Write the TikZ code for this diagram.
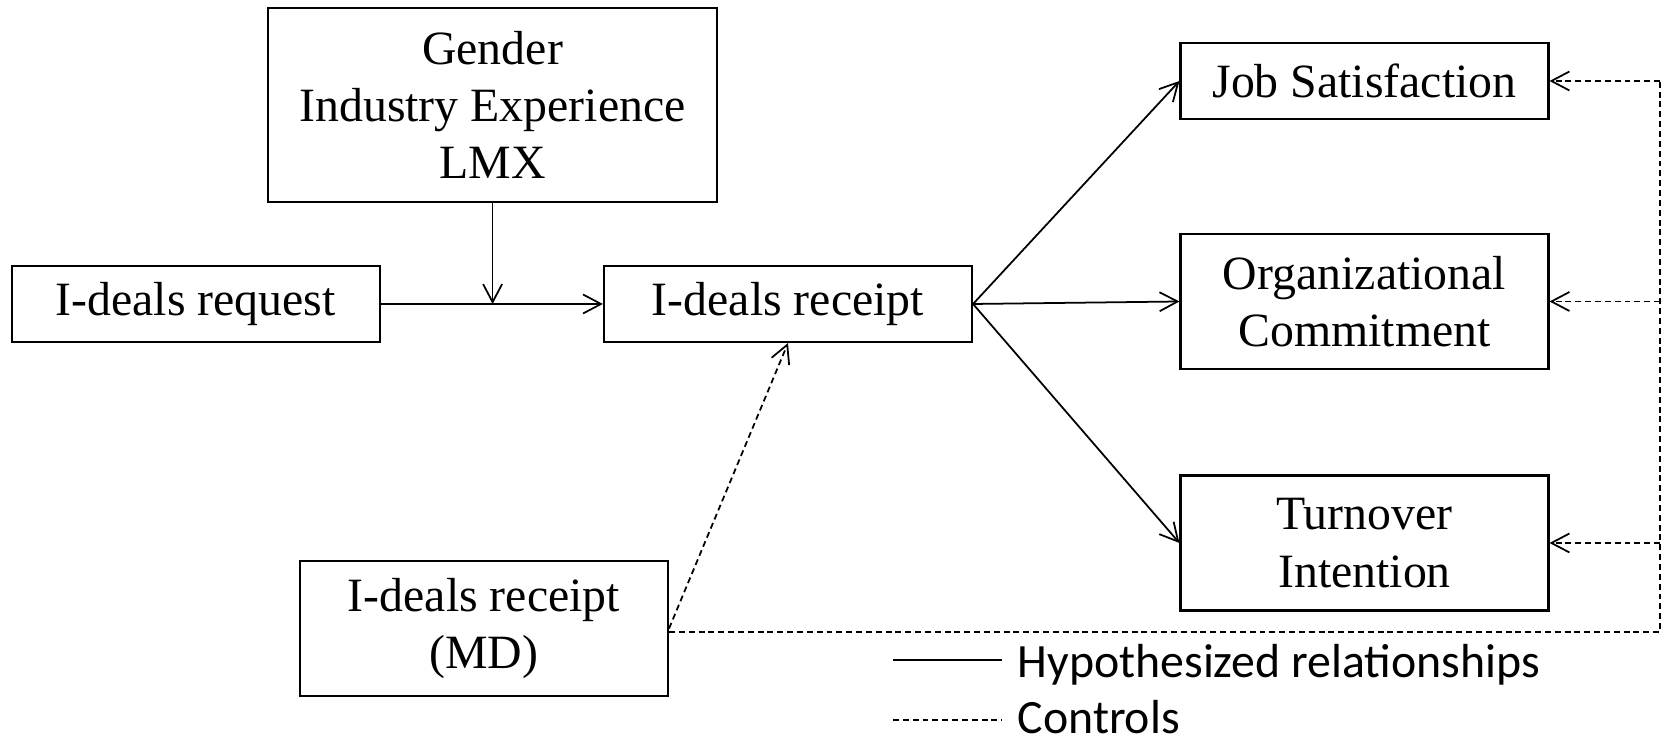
\documentclass[tikz,border=0pt]{standalone}
\usepackage{fontspec}
\setmainfont{Liberation Serif}
\newfontfamily\legendfont{Carlito}
\usetikzlibrary{arrows.meta,positioning}
\tikzset
{
    construct/.style = {rectangle, draw=black, line width=0.6pt, align=center, minimum width=3.68cm, minimum height=0.76cm, inner sep=0pt, font=\fontsize{13.6}{16.3}\selectfont},
    tall/.style      = {minimum height=1.35cm},
    arrow/.style     = {line width=0.5pt, -{Straight Barb[length=1.8mm,width=1.9mm]}},
    ctrlline/.style  = {line width=0.5pt, dash pattern=on 1.7pt off 1.1pt},
    legendtext/.style = {anchor=base west, inner sep=0pt, font=\legendfont\fontsize{13.6}{16}\selectfont}
}
\begin{document}
\begin{tikzpicture}
	\useasboundingbox (0,0) rectangle (16.67,-7.43);
	\node (req) [construct] at (1.956,-3.04) {I-deals request};
	\node (rec) [construct, right of=req, xshift=4.924cm] {I-deals receipt};
	\node (ctrl) [construct, above of=req, xshift=2.97cm, yshift=0.99cm, minimum width=4.49cm, minimum height=1.935cm] {Gender\\Industry Experience\\LMX};
	\node (md) [construct, tall, below of=req, xshift=2.884cm, yshift=-2.245cm] {I-deals receipt\\(MD)};
	\node (js) [construct, right of=rec, xshift=4.765cm, yshift=2.23cm] {Job Satisfaction};
	\node (oc) [construct, tall, right of=rec, xshift=4.765cm, yshift=0.025cm] {Organizational\\Commitment};
	\node (ti) [construct, tall, below of=oc, yshift=-1.415cm] {Turnover\\Intention};

	\coordinate (mod) at (ctrl.south |- req.east);
	\coordinate (cb) at (16.6,-6.32);

	\draw [arrow] (req) -- (rec);
	\draw [arrow] (ctrl) -- (mod);
	\draw [arrow] (rec.east) -- (js.west);
	\draw [arrow] (rec.east) -- (oc.west);
	\draw [arrow] (rec.east) -- (ti.west);
	\draw [arrow, ctrlline] (md.east) -- (rec.south);
	\draw [ctrlline] (md.east |- cb) -- (cb) -- (cb |- js.east);
	\draw [arrow, ctrlline] (cb |- js.east) -- (js.east);
	\draw [arrow, ctrlline] (cb |- oc.east) -- (oc.east);
	\draw [arrow, ctrlline] (cb |- ti.east) -- (ti.east);

	% legend
	\coordinate (hypA) at (8.93,-6.6);
	\coordinate (hypB) at (10.02,-6.6);
	\coordinate (ctlA) at (8.93,-7.2);
	\coordinate (ctlB) at (10.02,-7.2);
	\draw [line width=0.5pt] (hypA) -- (hypB);
	\draw [ctrlline] (ctlA) -- (ctlB);
	\node (hyp) [legendtext] at (10.17,-6.78) {Hypothesized relationships};
	\node (ctl) [legendtext] at (10.17,-7.34) {Controls};
\end{tikzpicture}
\end{document}
